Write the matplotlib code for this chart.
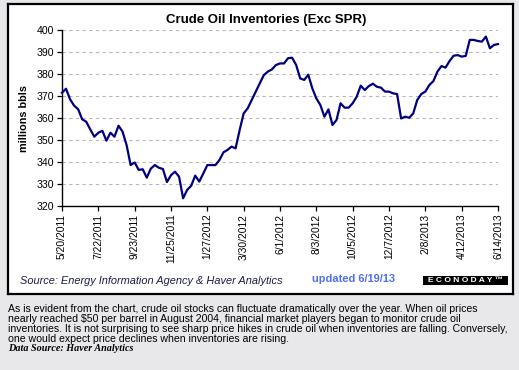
import matplotlib
matplotlib.use("Agg")
import matplotlib.pyplot as plt
from matplotlib.patches import Rectangle
import numpy as np

plt.rcParams['font.family'] = ['Liberation Sans', 'DejaVu Sans']

# Weekly crude oil inventories (millions bbls), 5/20/2011 .. 6/14/2013
inventories = [
    371.5, 373.3, 368.5, 365.6, 364.0, 359.4, 358.3, 354.8, 351.5, 353.3,
    354.2, 349.7, 353.3, 351.5, 356.5, 353.8, 347.7, 338.6, 339.8, 336.4,
    336.7, 332.9, 337.0, 338.6, 337.4, 336.8, 330.9, 334.0, 335.6, 333.3,
    323.5, 327.3, 329.2, 333.8, 331.1, 334.8, 338.6, 338.6, 338.6, 340.9,
    344.4, 345.5, 347.0, 346.2, 354.5, 362.1, 364.4, 368.2, 372.0, 375.8,
    379.5, 381.1, 382.1, 384.1, 384.8, 384.8, 387.2, 387.4, 384.1, 378.0,
    377.3, 379.7, 373.5, 368.9, 365.9, 360.6, 363.9, 356.8, 359.1, 366.7,
    364.7, 364.7, 366.7, 369.7, 374.7, 372.7, 374.5, 375.6, 374.2, 373.8,
    372.0, 372.0, 371.2, 370.9, 359.8, 360.6, 360.1, 362.1, 368.2, 370.9,
    372.0, 375.0, 376.8, 381.1, 383.6, 382.9, 385.9, 388.3, 388.6, 387.9,
    388.2, 395.5, 395.5, 395.0, 394.7, 397.0, 391.7, 393.2, 393.6,
]
tick_labels = ["5/20/2011", "7/22/2011", "9/23/2011", "11/25/2011", "1/27/2012",
               "3/30/2012", "6/1/2012", "8/3/2012", "10/5/2012", "12/7/2012",
               "2/8/2013", "4/12/2013", "6/14/2013"]
y_ticks = [320, 330, 340, 350, 360, 370, 380, 390, 400]
caption_lines = [
    "As is evident from the chart, crude oil stocks can fluctuate dramatically over the year. When oil prices",
    "nearly reached $50 per barrel in August 2004, financial market players began to monitor crude oil",
    "inventories. It is not surprising to see sharp price hikes in crude oil when inventories are falling. Conversely,",
    "one would expect price declines when inventories are rising.",
]

W, H = 519, 370
fig = plt.figure(figsize=(W / 100, H / 100), dpi=100)
fig.patch.set_facecolor('#e8e8eb')

def fx(px):
    return px / W

def fy(py):
    return 1 - py / H

# white chart box with black frame (background axes)
bg = fig.add_axes([fx(8), fy(294), fx(513) - fx(8), fy(4) - fy(294)], zorder=-1)
bg.set_xticks([])
bg.set_yticks([])
bg.set_facecolor('white')
for s in bg.spines.values():
    s.set_linewidth(1.6)
    s.set_color('black')

ax = fig.add_axes([fx(62), fy(206), fx(498) - fx(62), fy(30) - fy(206)], zorder=1)
ax.set_facecolor('none')
x = np.arange(len(inventories))
ax.plot(x, inventories, color='#000080', linewidth=1.6, zorder=3, clip_on=False)

ax.set_xlim(0, len(inventories) - 1)
ax.set_ylim(320, 400)
ax.set_yticks(y_ticks)
ax.set_yticklabels([str(v) for v in y_ticks], fontsize=7.6)
tick_pos = np.arange(0, len(inventories), 9)
ax.set_xticks(tick_pos)
ax.set_xticklabels(tick_labels, rotation=90, fontsize=7.4, va='top', ha='center')
ax.tick_params(axis='both', direction='out', length=3.5, width=0.9, color='black', pad=2)
for s in ['top', 'right']:
    ax.spines[s].set_visible(False)
for s in ['left', 'bottom']:
    ax.spines[s].set_linewidth(1.0)
    ax.spines[s].set_color('black')
ax.yaxis.grid(True, linestyle=(0, (3, 3)), color='#b8b8b8', linewidth=0.8)
ax.set_axisbelow(True)
ax.set_ylabel('millions bbls', fontsize=7.8, fontweight='bold')
ax.yaxis.set_label_coords(-0.075, 0.5)

fig.text(fx(266), fy(20), 'Crude Oil Inventories (Exc SPR)', fontsize=9.5,
         fontweight='bold', ha='center', va='center')

fig.text(fx(20), fy(281), 'Source: Energy Information Agency & Haver Analytics',
         fontsize=7.9, style='italic', color='#1c1c4a', ha='left', va='center')
fig.text(fx(312), fy(279), 'updated 6/19/13', fontsize=7.9, fontweight='bold',
         color='#4f6ef2', ha='left', va='center')

logo = Rectangle((fx(423), fy(285)), fx(508) - fx(423), fy(276) - fy(285),
                 transform=fig.transFigure, facecolor='black', edgecolor='none', zorder=5)
fig.add_artist(logo)
fig.text(fx(465.5), fy(280.5), 'E C O N O D A Y \u2122', fontsize=6.0, fontweight='bold',
         color='white', ha='center', va='center', zorder=6)

for i, line in enumerate(caption_lines):
    fig.text(fx(8), fy(309 + 10 * i), line, fontsize=7.6, ha='left', va='center')
fig.text(fx(8), fy(348.5), 'Data Source: Haver Analytics', fontsize=7.3,
         family=['Liberation Serif', 'DejaVu Serif'], style='italic', fontweight='bold',
         ha='left', va='center')

fig.savefig('out.png', dpi=100, facecolor=fig.get_facecolor())
